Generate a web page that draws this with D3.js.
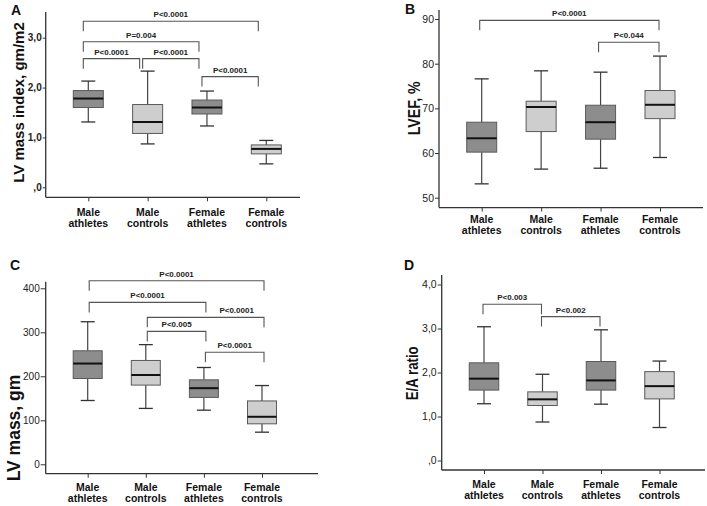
<!DOCTYPE html>
<html>
<head>
<meta charset="utf-8">
<script src="https://cdn.jsdelivr.net/npm/d3@7"></script>
<style>
  html, body { margin: 0; padding: 0; background: #fff; }
  svg { display: block; font-family: "Liberation Sans", Arial, sans-serif; }
</style>
</head>
<body>
<svg id="chart" width="707" height="506"></svg>
<script>
// ---------------- DATA ----------------
const categories = ["Male athletes", "Male controls", "Female athletes", "Female controls"];
const groupType = ["athletes", "controls", "athletes", "controls"];

// each box: [low whisker, Q1, median, Q3, high whisker]
const lvMassIndex = [[1.31, 1.60, 1.78, 1.94, 2.13], [0.87, 1.08, 1.31, 1.66, 2.33], [1.23, 1.47, 1.60, 1.75, 1.93], [0.47, 0.67, 0.77, 0.85, 0.94]];
const lvef = [[53.1, 60.2, 63.3, 66.9, 76.6], [56.4, 64.8, 70.3, 71.6, 78.4], [56.6, 63.1, 66.9, 70.7, 78.1], [59.0, 67.7, 70.8, 74.0, 81.7]];
const lvMass = [[145, 195, 229, 258, 324], [127, 180, 203, 236, 272], [123, 152, 173, 192, 220], [73, 92, 108, 144, 179]];
const eaRatio = [[1.29, 1.60, 1.86, 2.22, 3.04], [0.875, 1.25, 1.39, 1.56, 1.96], [1.28, 1.60, 1.82, 2.25, 2.97], [0.75, 1.40, 1.69, 2.02, 2.26]];

// significance brackets: [from category, to category, level, label]
const bracketsA = [[0, 3, 3.33, "P<0.0001"], [0, 2, 2.92, "P=0.004"], [0, 1, 2.58, "P<0.0001"], [1, 2, 2.58, "P<0.0001"], [2, 3, 2.22, "P<0.0001"]];
const bracketsB = [[0, 3, 89.7, "P<0.0001"], [2, 3, 84.8, "P<0.044"]];
const bracketsC = [[0, 3, 417, "P<0.0001"], [0, 2, 368, "P<0.0001"], [1, 3, 334, "P<0.0001"], [1, 2, 302, "P<0.005"], [2, 3, 254.5, "P<0.0001"]];
const bracketsD = [[0, 1, 3.55, "P<0.003"], [1, 2, 3.27, "P<0.002"]];

const ticksA = [0, 1, 2, 3];
const tickLabelsA = [",0", "1,0", "2,0", "3,0"];
const ticksB = [50, 60, 70, 80, 90];
const tickLabelsB = ["50", "60", "70", "80", "90"];
const ticksC = [0, 100, 200, 300, 400];
const tickLabelsC = ["0", "100", "200", "300", "400"];
const ticksD = [0, 1, 2, 3, 4];
const tickLabelsD = [",0", "1,0", "2,0", "3,0", "4,0"];

const titles = ["LV mass index, gm/m2", "LVEF, %", "LV mass, gm", "E/A ratio"];
const panelLetters = ["A", "B", "C", "D"];

// ---------------- LAYOUT (drawing config) ----------------
const panels = [
  { letter: panelLetters[0], title: titles[0], data: lvMassIndex, brackets: bracketsA, ticks: ticksA, tickLabels: tickLabelsA,
    yDom: [0, 3], yRng: [187.3, 37.7], axisX: 45.7, axisTop: 12, axisBottom: 197.3, axisRight: 300,
    cats: [88.3, 266.3], boxW: 30, bOff: [-5, -8], labelShift: {},
    tickFont: "bold 10px", tickPad: 1, tickLen: 3,
    xl1: 18.2, xlGap: 11,
    titleX: 24, titleY: 102.5, titleFont: 15, titleLen: null,
    letterX: 11, letterY: 15 },
  { letter: panelLetters[1], title: titles[1], data: lvef, brackets: bracketsB, ticks: ticksB, tickLabels: tickLabelsB,
    yDom: [50, 90], yRng: [197.7, 19], axisX: 439, axisTop: 10, axisBottom: 207.6, axisRight: 703,
    cats: [481.7, 660], boxW: 30, bOff: [-2, -1], labelShift: {},
    tickFont: "10.5px", tickPad: 1, tickLen: 4,
    xl1: 15.7, xlGap: 11,
    titleX: 420, titleY: 108.3, titleFont: 17, titleLen: 54,
    letterX: 405, letterY: 14 },
  { letter: panelLetters[2], title: titles[2], data: lvMass, brackets: bracketsC, ticks: ticksC, tickLabels: tickLabelsC,
    yDom: [0, 400], yRng: [464.3, 288.3], axisX: 45.7, axisTop: 281.7, axisBottom: 473.7, axisRight: 318,
    cats: [87.7, 262], boxW: 29, bOff: [1.5, 2], labelShift: { 2: 31 },
    tickFont: "10px", tickPad: 1, tickLen: 5,
    xl1: 17.5, xlGap: 11,
    titleX: 19.5, titleY: 428, titleFont: 17.5, titleLen: null,
    letterX: 10, letterY: 270 },
  { letter: panelLetters[3], title: titles[3], data: eaRatio, brackets: bracketsD, ticks: ticksD, tickLabels: tickLabelsD,
    yDom: [0, 4], yRng: [460.5, 284.5], axisX: 441.7, axisTop: 275, axisBottom: 470, axisRight: 705,
    cats: [484, 659.5], boxW: 29.5, bOff: [-1, -1], labelShift: {},
    tickFont: "10.5px", tickPad: 1, tickLen: 4,
    xl1: 18.2, xlGap: 11,
    titleX: 418, titleY: 373.3, titleFont: 16, titleLen: 54,
    letterX: 404, letterY: 270 }
];

const fillColor = { athletes: "#8d8d8d", controls: "#cecece" };
const fontFam = '"Liberation Sans", Arial, sans-serif';

const svg = d3.select("#chart");
svg.append("rect").attr("width", 707).attr("height", 506).attr("fill", "#fff");

panels.forEach(p => {
  const g = svg.append("g");
  const y = d3.scaleLinear().domain(p.yDom).range(p.yRng);
  const x = d3.scalePoint().domain(categories).range(p.cats);

  // y axis line
  g.append("line").attr("x1", p.axisX).attr("x2", p.axisX)
    .attr("y1", p.axisTop).attr("y2", p.axisBottom)
    .attr("stroke", "#333").attr("stroke-width", 1.3);
  // x axis line
  g.append("line").attr("x1", p.axisX).attr("x2", p.axisRight)
    .attr("y1", p.axisBottom).attr("y2", p.axisBottom)
    .attr("stroke", "#333").attr("stroke-width", 1.3);

  // y ticks
  const yAxis = d3.axisLeft(y).tickValues(p.ticks)
    .tickFormat((d, i) => p.tickLabels[i])
    .tickSize(p.tickLen).tickSizeOuter(0).tickPadding(p.tickPad);
  const ya = g.append("g").attr("transform", `translate(${p.axisX},0)`).call(yAxis);
  ya.select(".domain").remove();
  ya.selectAll(".tick line").attr("stroke", "#333");
  ya.selectAll(".tick text").attr("fill", "#222")
    .style("font", `${p.tickFont} ${fontFam}`);

  // x ticks
  const xAxis = d3.axisBottom(x).tickSize(4).tickFormat("");
  const xa = g.append("g").attr("transform", `translate(0,${p.axisBottom})`).call(xAxis);
  xa.select(".domain").remove();
  xa.selectAll(".tick line").attr("stroke", "#333");

  // x labels (two lines)
  categories.forEach(c => {
    const parts = c.split(" ");
    const t = g.append("text").attr("text-anchor", "middle").attr("fill", "#111")
      .style("font", `bold 10.5px ${fontFam}`);
    parts.forEach((s, i) => {
      t.append("tspan").attr("x", x(c)).attr("y", p.axisBottom + p.xl1 + i * p.xlGap).text(s);
    });
  });

  // boxes
  p.data.forEach((d, i) => {
    const cx = x(categories[i]);
    const [lo, q1, med, q3, hi] = d;
    const cap = 14;
    const bg = g.append("g");
    bg.append("line").attr("x1", cx).attr("x2", cx).attr("y1", y(hi)).attr("y2", y(q3))
      .attr("stroke", "#444").attr("stroke-width", 1.2);
    bg.append("line").attr("x1", cx).attr("x2", cx).attr("y1", y(q1)).attr("y2", y(lo))
      .attr("stroke", "#444").attr("stroke-width", 1.2);
    bg.append("line").attr("x1", cx - cap / 2).attr("x2", cx + cap / 2).attr("y1", y(hi)).attr("y2", y(hi))
      .attr("stroke", "#333").attr("stroke-width", 1.3);
    bg.append("line").attr("x1", cx - cap / 2).attr("x2", cx + cap / 2).attr("y1", y(lo)).attr("y2", y(lo))
      .attr("stroke", "#333").attr("stroke-width", 1.3);
    bg.append("rect").attr("x", cx - p.boxW / 2).attr("width", p.boxW)
      .attr("y", y(q3)).attr("height", y(q1) - y(q3))
      .attr("fill", fillColor[groupType[i]]).attr("stroke", "#5a5a5a").attr("stroke-width", 1);
    bg.append("line").attr("x1", cx - p.boxW / 2).attr("x2", cx + p.boxW / 2).attr("y1", y(med)).attr("y2", y(med))
      .attr("stroke", "#111").attr("stroke-width", 2);
  });

  // brackets
  p.brackets.forEach((b, bi) => {
    const [from, to, lvl, label] = b;
    const x1 = x(categories[from]) + p.bOff[0];
    const x2 = x(categories[to]) + p.bOff[1];
    const yy = y(lvl);
    const leg = 10;
    g.append("path")
      .attr("d", `M${x1},${yy + leg}V${yy}H${x2}V${yy + leg}`)
      .attr("fill", "none").attr("stroke", "#555").attr("stroke-width", 1.1);
    g.append("text").attr("x", (x1 + x2) / 2 + (p.labelShift[bi] || 0)).attr("y", yy - 4)
      .attr("text-anchor", "middle").attr("fill", "#222")
      .style("font", `bold 8px ${fontFam}`).text(label);
  });

  // y title
  const tt = g.append("text")
    .attr("transform", `translate(${p.titleX},${p.titleY}) rotate(-90)`)
    .attr("text-anchor", "middle").attr("fill", "#111")
    .style("font", `bold ${p.titleFont}px ${fontFam}`).text(p.title);
  if (p.titleLen) tt.attr("textLength", p.titleLen).attr("lengthAdjust", "spacingAndGlyphs");

  // panel letter
  g.append("text").attr("x", p.letterX).attr("y", p.letterY).attr("fill", "#111")
    .style("font", `bold 14px ${fontFam}`).text(p.letter);
});
</script>
</body>
</html>
